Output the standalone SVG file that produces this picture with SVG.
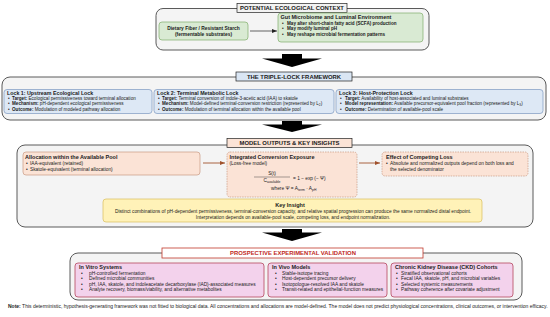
<svg xmlns="http://www.w3.org/2000/svg" width="550" height="317" viewBox="0 0 550 317">
<style>
text{font-family:"Liberation Sans",Arial,sans-serif;fill:#1a1a1a}
.ti{font-weight:bold;font-size:5.5px}
.tl{font-weight:bold;font-size:5.3px}
.bd{font-size:4.8px}
.bs{font-size:4.6px}
.bb{font-size:4.6px;font-weight:bold}
.b{font-weight:bold}
.lbl{font-weight:bold;font-size:5.9px;text-anchor:middle}
.mid{text-anchor:middle}
.panel{fill:#f4f4f4;stroke:#5a5a5a;stroke-width:1}
.green{fill:#d9ead3;stroke:#7fae6a;stroke-width:0.7}
.blue{fill:#dde8f5;stroke:#7d98c0;stroke-width:0.7}
.peach{fill:#fbe3d6;stroke:#c99a82;stroke-width:0.7}
.dash{fill:#fbe3d6;stroke:#c99a82;stroke-width:0.7;stroke-dasharray:1.5 1}
.yellow{fill:#fff2b8;stroke:#d8bd5a;stroke-width:0.7}
.pink{fill:#f3d2ec;stroke:#b5465e;stroke-width:0.8}
.big{fill:#000}
.conn{stroke:#222;stroke-width:0.7;fill:none}
.bconn{stroke:#a0522d;stroke-width:0.9;fill:none}
</style>
<defs>
<marker id="ah" markerWidth="6" markerHeight="6" refX="5" refY="3" orient="auto" markerUnits="userSpaceOnUse"><path d="M0,1 L5,3 L0,5 Z" fill="#222"/></marker>
<marker id="ahb" markerWidth="6" markerHeight="6" refX="5" refY="3" orient="auto" markerUnits="userSpaceOnUse"><path d="M0,1 L5,3 L0,5 Z" fill="#a0522d"/></marker>
</defs>

<!-- Section 1 -->
<g id="context">
<rect class="panel" x="156" y="8.5" width="273" height="41.5" rx="7"/>
<rect x="237" y="3.5" width="110" height="9" fill="#f2f2f2" stroke="#222" stroke-width="0.7"/>
<text class="lbl" x="292" y="10.2">POTENTIAL ECOLOGICAL CONTEXT</text>
</g>
<g id="fiber">
<rect class="green" x="159" y="22" width="89" height="18" rx="3"/>
<text class="bb mid" x="203.5" y="29.5" style="font-size:4.9px">Dietary Fiber / Resistant Starch</text>
<text class="bb mid" x="203.5" y="35.5" style="font-size:4.9px">(fermentable substrates)</text>
</g>
<g id="microbiome">
<rect class="green" x="278" y="13" width="145" height="29" rx="3"/>
<text class="ti" x="280.5" y="19.3">Gut Microbiome and Luminal Environment</text>
<text class="bb" x="282" y="25.1">•</text><text class="bb" x="287" y="25.1">May alter short-chain fatty acid (SCFA) production</text>
<text class="bb" x="282" y="30.3">•</text><text class="bb" x="287" y="30.3">May modify luminal pH</text>
<text class="bb" x="282" y="35.5">•</text><text class="bb" x="287" y="35.5">May reshape microbial fermentation patterns</text>
</g>

<!-- Section 2 -->
<g id="triplelock">
<rect class="panel" x="2" y="77" width="544" height="43" rx="8"/>
<rect x="236" y="72" width="116" height="9" fill="#dae6f4" stroke="#222" stroke-width="0.7"/>
<text class="lbl" x="294" y="78.7">THE TRIPLE-LOCK FRAMEWORK</text>
</g>
<g id="lock1">
<rect class="blue" x="4" y="89.5" width="148" height="24" rx="3"/>
<text class="tl" x="7" y="94.8">Lock 1: Upstream Ecological Lock</text>
<text class="bs" x="8" y="100.2">•</text><text class="bs" x="12" y="100.2"><tspan class="b">Target:</tspan> Ecological permissiveness toward terminal allocation</text>
<text class="bs" x="8" y="105.4">•</text><text class="bs" x="12" y="105.4"><tspan class="b">Mechanism:</tspan> pH-dependent ecological permissiveness</text>
<text class="bs" x="8" y="110.6">•</text><text class="bs" x="12" y="110.6"><tspan class="b">Outcome:</tspan> Modulation of modeled pathway allocation</text>
</g>
<g id="lock2">
<rect class="blue" x="154" y="89.5" width="180" height="24" rx="3"/>
<text class="tl" x="157" y="94.8">Lock 2: Terminal Metabolic Lock</text>
<text class="bs" x="158" y="100.2">•</text><text class="bs" x="162" y="100.2"><tspan class="b">Target:</tspan> Terminal conversion of indole-3-acetic acid (IAA) to skatole</text>
<text class="bs" x="158" y="105.4">•</text><text class="bs" x="162" y="105.4"><tspan class="b">Mechanism:</tspan> Model-defined terminal-conversion restriction (represented by L<tspan font-size="3.3" dy="0.8">2</tspan><tspan dy="-0.8">)</tspan></text>
<text class="bs" x="158" y="110.6">•</text><text class="bs" x="162" y="110.6"><tspan class="b">Outcome:</tspan> Modulation of terminal allocation within the available pool</text>
</g>
<g id="lock3">
<rect class="blue" x="336" y="89.5" width="207" height="24" rx="3"/>
<text class="tl" x="339" y="94.8">Lock 3: Host-Protection Lock</text>
<text class="bs" x="340" y="100.2">•</text><text class="bs" x="345" y="100.2"><tspan class="b">Target:</tspan> Availability of host-associated and luminal substrates</text>
<text class="bs" x="340" y="105.4">•</text><text class="bs" x="345" y="105.4"><tspan class="b">Model representation:</tspan> Available precursor-equivalent pool fraction (represented by L<tspan font-size="3.3" dy="0.8">3</tspan><tspan dy="-0.8">)</tspan></text>
<text class="bs" x="340" y="110.6">•</text><text class="bs" x="345" y="110.6"><tspan class="b">Outcome:</tspan> Determination of available-pool scale</text>
</g>

<!-- Section 3 -->
<g id="outputs">
<rect class="panel" x="17" y="145" width="516" height="82" rx="8"/>
<rect x="227" y="138.5" width="125" height="9" fill="#fbe3d6" stroke="#222" stroke-width="0.7"/>
<text class="lbl" x="289.5" y="145.2">MODEL OUTPUTS &amp; KEY INSIGHTS</text>
</g>
<g id="allocation">
<rect class="peach" x="23" y="152" width="177" height="23" rx="3"/>
<text class="ti" x="25" y="159.3">Allocation within the Available Pool</text>
<text class="bd" x="26" y="165.2">•</text><text class="bd" x="30" y="165.2">IAA-equivalent (retained)</text>
<text class="bd" x="26" y="170.7">•</text><text class="bd" x="30" y="170.7">Skatole-equivalent (terminal allocation)</text>
</g>
<g id="exposure">
<rect class="dash" x="227" y="152" width="130" height="45" rx="3"/>
<text class="ti" x="229.5" y="158.5">Integrated Conversion Exposure</text>
<text class="bd" x="229.5" y="165.2">(Loss-free model)</text>
<text class="bd mid" x="272" y="174.5">S(t)</text>
<line x1="254" y1="177" x2="290" y2="177" stroke="#222" stroke-width="0.4"/>
<text class="bd mid" x="272" y="182.4">C<tspan font-size="3.4" dy="0.8">available</tspan></text>
<text class="bd" x="293" y="179.5">= 1 − exp (− Ψ)</text>
<text class="bd" x="271" y="189.8">where Ψ = A<tspan font-size="3.4" dy="0.8">term</tspan><tspan dy="-0.8"> · A</tspan><tspan font-size="3.4" dy="0.8">pH</tspan></text>
</g>
<g id="loss">
<rect class="dash" x="382" y="152" width="146" height="24" rx="3"/>
<text class="ti" x="386" y="159.3">Effect of Competing Loss</text>
<text class="bd" x="386" y="165.2">•</text><text class="bd" x="390" y="165.2">Absolute and normalized outputs depend on both loss and</text>
<text class="bd" x="390" y="170.7">the selected denominator</text>
</g>
<g id="insight">
<rect class="yellow" x="103" y="199" width="379" height="23" rx="3"/>
<text class="ti mid" x="290" y="207">Key Insight</text>
<text class="bd mid" x="293" y="213.4">Distinct combinations of pH-dependent permissiveness, terminal-conversion capacity, and relative spatial progression can produce the same normalized distal endpoint.</text>
<text class="bd mid" x="293" y="219">Interpretation depends on available-pool scale, competing loss, and endpoint normalization.</text>
</g>

<!-- Section 4 -->
<g id="validation">
<rect class="panel" x="70" y="253" width="452" height="47" rx="8"/>
<rect x="162" y="248" width="261" height="10" fill="#ffffff" stroke="#c0392b" stroke-width="0.8"/>
<text class="lbl" x="293" y="255.2" style="fill:#c0281c">PROSPECTIVE EXPERIMENTAL VALIDATION</text>
</g>
<g id="invitro">
<rect class="pink" x="75" y="263" width="189" height="34" rx="3"/>
<text class="ti" x="79" y="269.2">In Vitro Systems</text>
<text class="bd" x="81" y="274.8">•</text><text class="bd" x="89" y="274.8">pH-controlled fermentation</text>
<text class="bd" x="81" y="280.2">•</text><text class="bd" x="89" y="280.2">Defined microbial communities</text>
<text class="bd" x="81" y="285.6">•</text><text class="bd" x="89" y="285.6">pH, IAA, skatole, and indoleacetate decarboxylase (IAD)-associated measures</text>
<text class="bd" x="81" y="291">•</text><text class="bd" x="89" y="291">Analyte recovery, biomass/viability, and alternative metabolites</text>
</g>
<g id="invivo">
<rect class="pink" x="268" y="263" width="119" height="34" rx="3"/>
<text class="ti" x="272" y="269.2">In Vivo Models</text>
<text class="bd" x="275" y="274.8">•</text><text class="bd" x="282" y="274.8">Stable-isotope tracing</text>
<text class="bd" x="275" y="280.2">•</text><text class="bd" x="282" y="280.2">Host-dependent precursor delivery</text>
<text class="bd" x="275" y="285.6">•</text><text class="bd" x="282" y="285.6">Isotopologue-resolved IAA and skatole</text>
<text class="bd" x="275" y="291">•</text><text class="bd" x="282" y="291">Transit-related and epithelial-function measures</text>
</g>
<g id="ckd">
<rect class="pink" x="391" y="263" width="122" height="34" rx="3"/>
<text class="ti" x="395" y="269.2">Chronic Kidney Disease (CKD) Cohorts</text>
<text class="bd" x="396" y="274.8">•</text><text class="bd" x="401" y="274.8">Stratified observational cohorts</text>
<text class="bd" x="396" y="280.2">•</text><text class="bd" x="401" y="280.2">Fecal IAA, skatole, pH, and microbial variables</text>
<text class="bd" x="396" y="285.6">•</text><text class="bd" x="401" y="285.6">Selected systemic measurements</text>
<text class="bd" x="396" y="291">•</text><text class="bd" x="401" y="291">Pathway coherence after covariate adjustment</text>
</g>

<g id="note">
<text class="bd" x="8" y="307.5" style="font-size:5px"><tspan class="b">Note:</tspan> This deterministic, hypothesis-generating framework was not fitted to biological data. All concentrations and allocations are model-defined. The model does not predict physiological concentrations, clinical outcomes, or intervention efficacy.</text>
</g>

<g id="connectors">
<line class="conn" x1="250" y1="31" x2="277" y2="31" marker-end="url(#ah)"/>
<line class="bconn" x1="203" y1="163" x2="225" y2="163" marker-end="url(#ahb)"/>
<line class="bconn" x1="359" y1="163" x2="380" y2="163" marker-end="url(#ahb)"/>
<polygon class="big" points="282,54 302,54 302,58.5 322,58.5 292,67 262,58.5 282,58.5"/>
<polygon class="big" points="282,121 302,121 302,124.5 322,124.5 292,132 262,124.5 282,124.5"/>
<polygon class="big" points="282,229 302,229 302,232.5 322,232.5 292,241 262,232.5 282,232.5"/>
</g>
</svg>
